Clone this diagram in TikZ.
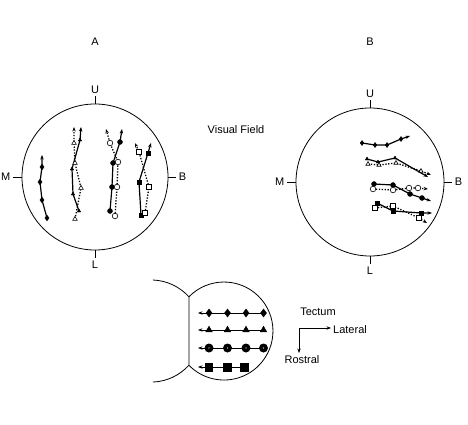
\documentclass[tikz,border=0pt]{standalone}
\usepackage{fontspec}
\setmainfont{Liberation Sans}
\usetikzlibrary{arrows.meta,positioning,plotmarks}
\newcommand{\lab}{\fontsize{11}{13}\selectfont}
\tikzset{
  >={Stealth[length=4.5pt,width=3.4pt]},
  field/.style={circle,draw,line width=0.8pt,inner sep=0pt,minimum size=#1},
  lbl/.style={font=\lab,inner sep=2pt},
  rim/.style={line width=0.8pt},
  hit/.style={->,line width=1.2pt},
  miss/.style={->,line width=1.3pt,dash pattern=on 1.3pt off 1.6pt},
  solidmk/.style={only marks,mark=#1,mark options={solid,fill=black}},
  openmk/.style={only marks,mark=#1,mark options={solid,fill=white,line width=0.6pt}},
  rowline/.style={<-,line width=0.8pt},
}
% one response track: line with arrow, then its markers
\newcommand{\fieldtrace}[4]{%
  \draw[#1] plot coordinates {#3 #4};
  \draw plot[#2] coordinates {#3};}

\begin{document}
\begin{tikzpicture}[x=1pt,y=-1pt]
  \useasboundingbox (0,0) rectangle (468,425);

  % eye A
  \node[lbl] (tA) at (95,42) {A};
  \node[field=146pt] (fA) at (95,177) {};
  \draw[rim] (fA.north) -- ++(0,-8) node[lbl,above] (uA) {U};
  \draw[rim] (fA.south) -- ++(0,8) node[lbl,below] (lA) {L};
  \draw[rim] (fA.west) -- ++(-9,0) node[lbl,left] (mA) {M};
  \draw[rim] (fA.east) -- ++(8,0) node[lbl,right] (bA) {B};

  \fieldtrace{hit}{solidmk=diamond*,mark size=2.8pt}{(47,218) (42,200) (40,182) (42,167)}{(42,155)}
  \fieldtrace{hit}{solidmk=triangle*,mark size=2pt}{(79,211) (73,194) (72,169) (80,140)}{(81,127)}
  \fieldtrace{miss}{openmk=triangle*,mark size=2.6pt}{(75,219) (81,188) (75,163) (74,143)}{(74,127)}
  \fieldtrace{hit}{solidmk=*,mark size=2.5pt}{(110,211) (112,187) (113,163) (120,142)}{(122,129)}
  \fieldtrace{miss}{openmk=*,mark size=2.8pt}{(115,216) (117,187) (118,162) (110,143)}{(106,129)}
  \fieldtrace{hit}{solidmk=square*,mark size=2.2pt}{(141,215) (139,182) (148,153)}{(151,143)}
  \fieldtrace{miss}{openmk=square*,mark size=2.4pt}{(145,213) (149,187) (139,152)}{(135,143)}

  \node[lbl] (vf) at (236,130) {Visual Field};

  % eye B
  \node[lbl] (tB) at (370,42) {B};
  \node[field=148pt] (fB) at (370,182) {};
  \draw[rim] (fB.north) -- ++(0,-8) node[lbl,above] (uB) {U};
  \draw[rim] (fB.south) -- ++(0,8) node[lbl,below] (lB) {L};
  \draw[rim] (fB.west) -- ++(-9,0) node[lbl,left] (mB) {M};
  \draw[rim] (fB.east) -- ++(8,0) node[lbl,right] (bB) {B};

  \fieldtrace{hit}{solidmk=diamond*,mark size=2.5pt}{(362,143) (375,145) (387,145) (401,139)}{(410,136)}
  \fieldtrace{hit}{solidmk=triangle*,mark size=2pt}{(367,159) (378,162) (395,158)}{(428,177)}
  \fieldtrace{miss}{openmk=triangle*,mark size=2.4pt}{(368,164) (379,165) (396,163) (421,171)}{(431,175)}
  \fieldtrace{hit}{solidmk=*,mark size=2.5pt}{(374,184) (393,185) (410,194) (422,198)}{(431,201)}
  \fieldtrace{miss}{openmk=*,mark size=2.8pt}{(373,189) (393,190) (409,188) (418,188)}{(428,189)}
  \fieldtrace{hit}{solidmk=square*,mark size=2.2pt}{(377,203) (393,211) (421,213)}{(432,213)}
  \fieldtrace{miss}{openmk=square*,mark size=2.4pt}{(375,208) (393,206) (419,218)}{(427,223)}

  % tectum
  \draw[rim] (152.8,280) arc[start angle=-88,end angle=-42,radius=51];
  \draw[rim] (188.9,365.2) arc[start angle=42,end angle=88,radius=51];
  \draw[rim] (188.9,296.8) arc[start angle=-135.7,end angle=135.7,radius=49] -- cycle;

  \foreach \y/\mk/\ms in {313/diamond*/4pt, 330/triangle*/3.8pt}{
    \draw[rowline] (198,\y) -- (263.5,\y);
    \draw plot[solidmk=\mk,mark size=\ms] coordinates {(209,\y) (227.5,\y) (246,\y) (263.5,\y)};
  }
  \draw[rowline] (198,348) -- (263.5,348);
  \foreach \x in {209,227.5,246,263.5}{
    \fill (\x,348) circle (4.5);
    \fill[white] (\x,348) circle (0.7);
  }
  \draw[rowline] (198,367) -- (244,367);
  \draw plot[solidmk=square*,mark size=3.8pt] coordinates {(208.5,367) (227,367) (244,367)};

  \node[lbl] (tec) at (318,312) {Tectum};
  \coordinate (ax) at (299,328);
  \node[lbl,anchor=west] (lat) at (331,330) {Lateral};
  \node[lbl,anchor=north] (ros) at (302,353) {Rostral};
  \draw[->,line width=0.6pt] (ax) -- (ax -| lat.west);
  \draw[->,line width=0.6pt] (ax) -- (ax |- ros.north);
\end{tikzpicture}
\end{document}
